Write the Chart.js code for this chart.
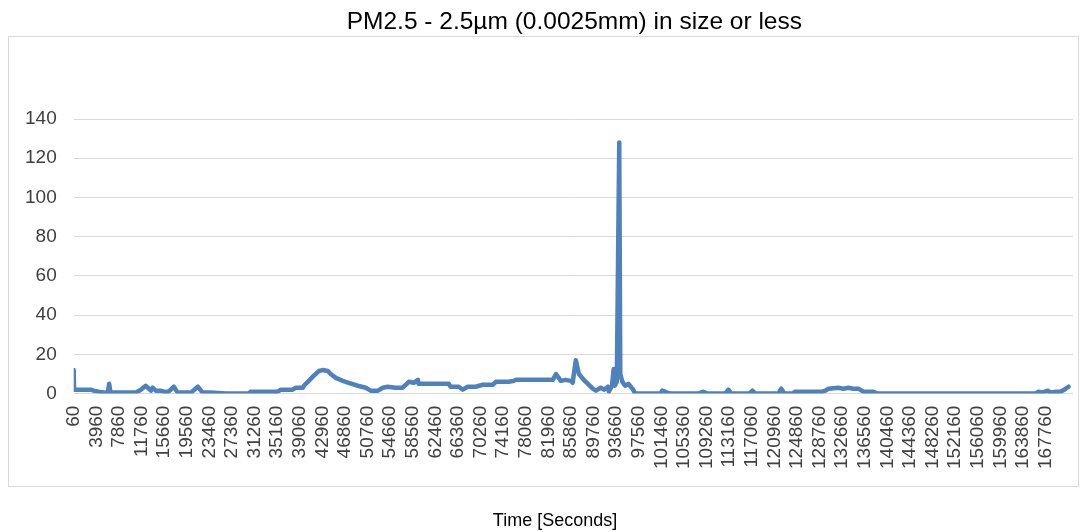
<!DOCTYPE html>
<html>
<head>
<meta charset="utf-8">
<script src="https://cdn.jsdelivr.net/npm/chart.js@4.4.1/dist/chart.umd.min.js"></script>
<style>
  html, body { margin: 0; padding: 0; background: #fff; }
  #wrap { position: relative; width: 1085px; height: 532px; }
</style>
</head>
<body>
<div id="wrap"><canvas id="pmChart" width="1085" height="532"></canvas></div>
<script>
// sample time in seconds and PM2.5 reading
const timeSeconds = [
  60, 120, 1260, 3000, 3480, 4380, 5580, 5940, 6180, 6420,
  10740, 11640, 12480, 13380, 13680, 14220, 15060, 15600, 16440, 17340,
  18000, 20280, 21480, 22320, 23700, 26280, 30240, 30600, 35280, 35820,
  37860, 38400, 39600, 39780, 40620, 41460, 42360, 43020, 43920, 44400,
  45300, 46500, 47520, 49080, 50460, 51300, 52560, 53400, 54240, 55620,
  56820, 57900, 58740, 59460, 59580, 64800, 65100, 66480, 67200, 68040,
  69420, 70680, 72360, 72900, 75120, 76020, 76320, 82740, 83280, 84120,
  84960, 85860, 86160, 86700, 87240, 88080, 88800, 89640, 90180, 91020,
  91560, 92220, 92400, 92940, 93240, 93420, 93780, 94200, 94380, 94740,
  95220, 95760, 96480, 96960, 101280, 101640, 102480, 103020, 107820, 108720,
  109380, 112500, 113040, 113520, 116640, 117180, 117660, 121680, 122160, 122700,
  124080, 124560, 129240, 129780, 130320, 132000, 132900, 133740, 134580, 135480,
  136320, 138060, 138720, 166020, 166560, 167220, 168120, 168600, 169500, 170340,
  171000, 171720
];
const pm25 = [
  12, 2, 2, 2, 1.5, 1, 0.5, 0.5, 5, 0.5,
  0.5, 2, 4, 1.5, 3, 1.5, 1.5, 1, 1, 3.5,
  0.5, 0.5, 3.5, 0.5, 0.5, 0, 0, 1, 1, 2,
  2, 3, 3, 4, 6.5, 9, 11.5, 12, 11.5, 10,
  8, 6.5, 5.5, 4, 3, 1.5, 1.5, 3, 3.5, 3,
  3, 6, 5.5, 7, 5, 5, 3.5, 3.5, 2, 3.5,
  3.5, 4.5, 4.5, 6, 6, 6.5, 7, 7, 10, 6.5,
  7, 6.5, 5.5, 17, 10, 7, 5, 2.5, 1.5, 3,
  2, 3.5, 1, 4, 12.5, 4, 6, 128, 10, 6,
  4, 5, 2.5, 0, 0, 1.5, 0.5, 0, 0, 1,
  0, 0, 2, 0, 0, 1.5, 0, 0, 2.5, 0,
  0, 1, 1, 1.5, 2.5, 3, 2.5, 3, 2.5, 2.5,
  1, 1, 0, 0, 1, 0.5, 1.5, 0.5, 1, 1,
  2, 3.5
];
const tickSeconds = [];
for (let t = 60; t <= 167760; t += 3900) tickSeconds.push(t);
const yTicks = [0, 20, 40, 60, 80, 100, 120, 140];

const chartTitle = 'PM2.5 - 2.5µm (0.0025mm) in size or less';
const xTitle = 'Time [Seconds]';
const fontFamily = '"Liberation Sans", Arial, sans-serif';

// outer frame plus the two titles, placed like the original sheet chart
const frameAndTitles = {
  id: 'frameAndTitles',
  beforeDraw(chart) {
    const ctx = chart.ctx;
    ctx.save();
    ctx.strokeStyle = '#d9d9d9';
    ctx.lineWidth = 1;
    ctx.strokeRect(8.5, 36.5, 1070, 450);
    ctx.restore();
  },
  afterDraw(chart) {
    const ctx = chart.ctx;
    const area = chart.chartArea;
    ctx.save();
    ctx.fillStyle = '#000';
    ctx.textAlign = 'center';
    ctx.textBaseline = 'middle';
    ctx.font = '24.5px ' + fontFamily;
    ctx.fillText(chartTitle, (area.left + area.right) / 2 + 1, 22);
    ctx.font = '18px ' + fontFamily;
    ctx.fillText(xTitle, 555, 521);
    ctx.restore();
  }
};

const ctx = document.getElementById('pmChart').getContext('2d');
new Chart(ctx, {
  type: 'line',
  data: {
    datasets: [
      {
        label: 'PM2.5',
        data: timeSeconds.map((t, i) => ({ x: t, y: pm25[i] })),
        borderColor: '#4f81bd',
        borderWidth: 4.5,
        borderJoinStyle: 'round',
        borderCapStyle: 'round',
        pointRadius: 0,
        tension: 0,
        fill: false,
      },
    ],
  },
  options: {
    responsive: false,
    animation: false,
    layout: {
      padding: { left: 8, right: 12, top: 119, bottom: 51 },
    },
    plugins: {
      legend: { display: false },
      title: { display: false },
      tooltip: { enabled: false },
    },
    scales: {
      x: {
        type: 'linear',
        min: 60,
        max: 172500,
        afterBuildTicks: (axis) => {
          axis.ticks = tickSeconds.map((v) => ({ value: v }));
        },
        grid: { display: false, drawTicks: false },
        border: { display: false },
        ticks: {
          autoSkip: false,
          minRotation: 90,
          maxRotation: 90,
          padding: 12,
          color: '#404040',
          font: { family: fontFamily, size: 19 },
          callback: (value) => String(value),
        },
      },
      y: {
        min: 0,
        max: 140,
        afterBuildTicks: (axis) => {
          axis.ticks = yTicks.map((v) => ({ value: v }));
        },
        grid: { color: '#d9d9d9', lineWidth: 1, drawTicks: false },
        border: { display: false },
        ticks: {
          padding: 17,
          color: '#404040',
          font: { family: fontFamily, size: 19 },
        },
      },
    },
  },
  plugins: [frameAndTitles],
});
</script>
</body>
</html>
